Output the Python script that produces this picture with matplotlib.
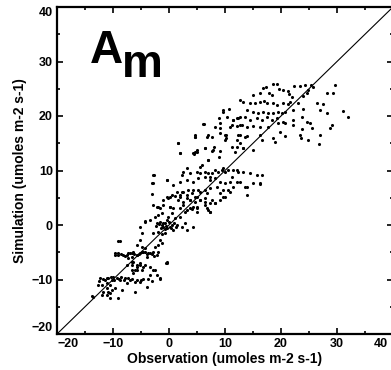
import numpy as np
import matplotlib
matplotlib.use('Agg')
import matplotlib.pyplot as plt
from matplotlib.transforms import ScaledTranslation

plt.rcParams['font.family'] = ['Liberation Sans', 'DejaVu Sans']
plt.rcParams['font.weight'] = 'bold'

# observed vs simulated net assimilation, read off the scatter by eye
# upper cloud (high light, summer)
obs_hi = [18.6, 19.3, 16.8, 17.3, 19.6, 20.4, 21.3, 22.3, 23.4, 24.3, 25.4, 25.7, 29.6, 28.2,
          29.3, 24.8, 24.6, 23.9, 15.0, 16.3, 17.9, 18.4, 21.4, 22.0, 14.5, 15.4, 16.3, 17.0,
          17.5, 18.6, 19.3, 20.4, 21.3, 21.6, 23.0, 26.4, 27.5, 13.2, 13.9, 15.0, 15.9, 16.8,
          17.7, 18.6, 19.5, 20.2, 20.7, 22.1, 23.9, 27.0, 28.2, 31.1, 32.0, 12.7, 13.6, 14.5,
          15.7, 16.6, 17.5, 18.4, 19.3, 20.4, 22.1, 23.8, 24.6, 12.7, 13.9, 15.0, 16.3, 17.7,
          19.5, 20.7, 22.1, 25.2, 29.1, 28.8, 19.8, 23.8, 25.5, 12.7, 13.6, 16.3, 16.6, 18.6,
          18.9, 20.7, 23.4, 23.6, 24.8, 27.0, 26.8, 15.0, 13.2,
          4.6, 6.3, 5.0, 4.4, 6.4, 7.7, 7.0, 8.9, 9.6, 10.7, 11.4, 9.1, 10.0, 10.2, 10.9, 12.1,
          12.7, 13.0, 12.1, 11.3, 11.8, 8.9, 8.0, 13.9, 13.2, 6.8]
sim_hi = [25.9, 25.9, 25.1, 25.3, 25.0, 24.8, 24.6, 25.5, 25.5, 25.7, 25.7, 25.3, 25.7, 24.2,
          24.2, 24.8, 24.2, 23.7, 23.9, 24.2, 24.2, 23.9, 24.0, 23.5, 22.4, 22.4, 22.6, 22.8,
          22.4, 22.4, 22.0, 22.4, 22.2, 22.6, 22.4, 22.4, 22.2, 22.6, 21.1, 20.7, 20.6, 20.7,
          20.6, 20.6, 20.7, 20.6, 20.7, 21.1, 21.3, 21.1, 20.6, 20.9, 19.8, 19.8, 19.8, 19.3,
          19.6, 19.3, 19.8, 19.3, 19.6, 18.9, 19.3, 19.8, 18.9, 18.3, 18.0, 18.2, 18.0, 18.0,
          18.7, 18.7, 18.3, 18.7, 18.3, 17.8, 17.1, 17.6, 17.8, 16.5, 16.2, 16.5, 15.6, 16.0,
          15.2, 16.3, 16.5, 16.0, 15.6, 16.5, 14.9, 13.8, 14.1,
          16.1, 18.5, 13.4, 13.1, 14.1, 13.6, 11.9, 19.6, 21.1, 21.3, 19.3, 17.8, 16.5, 16.0,
          18.0, 19.6, 22.9, 18.3, 15.6, 14.3, 13.4, 12.5, 14.3, 16.3, 14.1, 16.1]

# middle cloud
obs_mid = [9.6, 10.4, 11.4, 12.3, 12.1, 11.3, 9.1, 8.2, 6.1, 9.1, 10.2, 10.0, 12.3, 12.7,
           12.1, 7.0, 7.7, 4.6, 1.6, 2.0, 4.6, 5.0, 6.4, 7.9, 9.1, 7.0, 5.9, 5.5, 3.2, 2.5,
           2.3, 3.8, 5.0, 5.5, 6.4, 7.0, 7.7, 8.2, 8.8, 9.5, 10.0, 10.5, 11.4, 12.3, -2.9,
           -0.4, -2.9, 0.7, 2.0, 3.2, 4.3, 5.2, 6.4, 7.3, 8.2, 9.1, 10.0, 10.9, 8.6, 7.3, 6.4,
           5.2, 4.3, 3.4, 2.5, 1.4, 0.5, -0.2, -1.1, 2.0, 3.2, 3.8, 4.6, 5.5, 6.4, 7.7, 9.1,
           9.6, 10.5, 10.0, 8.2, -2.1, -1.6, 0.2, 0.7, 3.2, 4.1, 5.0, 7.0, 2.5,
           9.6, 12.1, 13.2, 14.5, 15.7, 16.6, 15.0, 16.3, 13.9, 11.3, 12.1, 7.3, 12.7, 13.6,
           16.3, 13.9, 11.4, 8.2, 7.3, 9.1, 9.6, 5.0, 4.3, 6.4, 10.9,
           -3.0, -2.7, -0.4, 1.6, 2.0, 4.6, 4.3, -3.0, -0.4, 2.0, 5.0]
sim_mid = [20.7, 19.8, 19.3, 19.6, 18.2, 18.3, 18.7, 18.0, 18.5, 16.9, 16.5, 15.6, 16.5, 15.0,
           14.3, 16.5, 16.2, 16.5, 15.0, 13.2, 13.4, 13.8, 14.1, 13.8, 13.6, 11.9, 11.0, 10.6,
           10.5, 9.7, 9.2, 9.5, 9.7, 9.5, 9.7, 9.5, 9.5, 10.1, 9.7, 10.1, 9.7, 10.1, 10.1, 9.7,
           9.2, 8.3, 7.7, 7.3, 7.9, 8.3, 7.9, 8.6, 8.8, 8.3, 8.6, 7.9, 7.7, 7.9, 7.0, 6.8, 6.4,
           6.4, 6.4, 6.4, 6.1, 6.1, 5.5, 5.0, 4.6, 5.1, 5.0, 4.6, 5.1, 4.6, 5.0, 4.6, 5.9,
           6.4, 6.4, 5.1, 4.0, 3.3, 3.1, 3.3, 3.1, 2.8, 2.9, 3.3, 2.8, 3.7,
           10.5, 10.1, 9.7, 9.5, 9.2, 9.2, 7.7, 7.7, 7.0, 8.8, 7.9, 8.8, 7.9, 7.0,
           7.5, 5.5, 7.0, 4.0, 2.4, 4.6, 5.1, 2.4, 3.3, 3.7, 6.1,
           7.7, 9.2, 8.3, 15.0, 13.2, 16.2, 13.2, 5.7, 5.1, 5.5, 5.1]

# lower cloud (low light, night respiration)
obs_lo = [2.3, 3.2, 4.1, 5.5, 6.8, 0.2, 1.1, 1.6, 2.5, 3.8, 4.6, 5.5, 6.4, 7.3, 6.8, 7.3,
          5.0, 3.8, 2.9, 2.0, -2.9, -2.0, -1.1, 0.2, -2.0, -2.5, -1.3, 0.5, -0.2, 1.1, 2.0,
          -3.4, -4.3, -2.1, -1.6, -1.3, -1.1, -0.7, -0.4, 0.2, 0.5, 0.7, 1.4, 2.3, 2.9, 3.2,
          4.3, -5.2, -4.8, -2.9, -2.0, -1.3, -0.7, -1.6, -2.0, -1.3, -2.5, -5.2, -5.7, -4.8,
          -4.3, -8.8, -6.4, -9.6, -9.1, -8.2, -7.3, -6.6, -5.7, -5.2, -4.6, -3.8, -2.9, -2.0,
          -3.9, -6.4, -5.7, -6.6, -5.2, -4.6, -3.4, -4.8, -6.1, -0.4, -2.9,
          -1.8, -1.0, -0.5, 0.0, 0.3, -0.8, -1.5, 0.9, 1.2, -0.3, -2.3,
          -9.6, -9.1, -7.5, -6.6, -5.7, -4.8, -4.3, -3.4, -2.1, -7.3, -6.6, -5.7, -5.2, -4.3,
          -5.7, -6.6, -0.4, -2.5, -12.3, -11.4, -10.9, -10.2, -10.0, -9.3, -8.8, -7.9, -7.0,
          -6.1, -5.2, -4.6, -11.1, -12.0, -12.7, -10.5, -7.5, -3.8, -3.0, -1.6, -2.1, -3.4,
          -6.4, -7.5, -11.1, -11.8, -10.9, -10.2, -9.6, -12.0, -11.1, -10.5, -8.4, -9.1,
          -13.6, -6.1, -3.9,
          -11.8, -11.0, -10.3, -9.8, -9.0, -8.5, -8.0, -7.4, -6.6, -5.8, -5.0, -12.5,
          -8.6, -7.9, -7.0, -6.2, -5.4, -4.0, -3.1, -2.6,
          -9.1, -4.3, -0.5, -1.6, -10.5, -13.8]
sim_lo = [6.1, 5.5, 5.9, 6.1, 5.9, 5.1, 5.3, 4.6, 4.2, 4.6, 4.2, 4.6, 4.2, 4.0, 3.1, 2.4,
          3.1, 3.1, 2.4, 3.1, 3.7, 3.3, 3.7, 3.3, 1.8, 1.5, 2.2, 2.2, 1.5, 1.3, 1.5,
          0.9, 0.6, 0.4, 0.6, 0.0, -0.3, 0.4, -0.6, -0.3, 0.0, -0.9, 0.0, -0.3, 0.4, -0.9,
          -0.3, -0.3, -1.4, -1.4, -1.2, -1.7, -1.4, -2.8, -3.7, -3.3, -4.0, -2.8, -3.7, -4.0,
          -4.2, -2.9, -5.0, -5.1, -5.1, -5.5, -5.1, -5.9, -5.5, -5.1, -5.0, -5.1, -5.0, -5.0,
          -5.9, -6.8, -7.3, -7.3, -7.0, -7.7, -7.7, -8.3, -8.3, -6.8, -8.3,
          0.2, 0.3, -0.1, 0.5, -0.5, -0.8, -0.5, 0.4, -0.4, 0.9, -0.2,
          -5.5, -5.5, -5.5, -5.1, -5.5, -5.0, -5.0, -5.1, -5.5, -6.1, -6.8, -7.7, -7.3, -7.3,
          -8.3, -8.3, -7.0, -8.3, -9.7, -10.1, -9.7, -10.1, -9.5, -9.7, -10.1, -9.7, -10.1,
          -10.5, -10.5, -9.9, -10.6, -11.0, -11.0, -11.0, -10.6, -9.9, -10.3, -9.7, -9.2, -9.2,
          -8.8, -7.3, -11.6, -12.3, -12.3, -11.9, -11.6, -12.8, -12.8, -12.5, -11.9, -13.4,
          -13.2, -12.3, -11.4,
          -9.9, -9.8, -9.6, -10.0, -9.9, -9.6, -10.0, -9.8, -9.9, -10.1, -10.0, -10.2,
          -5.3, -5.6, -5.2, -5.4, -5.3, -5.4, -5.3, -5.6,
          -2.9, 0.7, -7.0, -9.9, -13.4, -13.0]

ticks = [-20, -10, 0, 10, 20, 30, 40]
minor_ticks = [-15, -5, 5, 15, 25, 35]

obs = np.array(obs_hi + obs_mid + obs_lo)
sim = np.array(sim_hi + sim_mid + sim_lo)

fig = plt.figure(figsize=(3.91, 3.70), dpi=100)
ax = fig.add_axes([57 / 391, 36 / 370, 336 / 391, 327 / 370])

ax.scatter(obs, sim, s=5, c='black', marker='o', linewidths=0)
ax.plot([-20, 40], [-20, 40], color='black', lw=0.8)

ax.set_xlim(-20, 40)
ax.set_ylim(-20, 40)
ax.set_xticks(ticks)
ax.set_yticks(ticks)
ax.set_xticks(minor_ticks, minor=True)
ax.set_yticks(minor_ticks, minor=True)
ax.tick_params(which='both', direction='in', top=True, right=True, width=1.2)
ax.tick_params(which='major', length=4, labelsize=9, pad=3)
ax.tick_params(which='minor', length=2)
for s in ax.spines.values():
    s.set_linewidth(1.6)

ax.set_xlabel('Observation (umoles m-2 s-1)', fontsize=10, fontweight='bold', labelpad=1)
ax.set_ylabel('Simulation (umoles m-2 s-1)', fontsize=10, fontweight='bold', labelpad=3)

# end labels nudged inward, as in the original
xl = ax.get_xticklabels()
xl[0].set_ha('left')
xl[-1].set_ha('right')
xl[-1].set_transform(xl[-1].get_transform() + ScaledTranslation(-4 / 72, 0, fig.dpi_scale_trans))
yl = ax.get_yticklabels()
yl[0].set_va('bottom')
yl[-1].set_va('top')

ax.text(-14.1, 29.7, 'A', fontsize=33, fontweight='bold', va='baseline', ha='left')
ax.text(-8.4, 27.2, 'm', fontsize=33, fontweight='bold', va='baseline', ha='left')

fig.savefig('out.png', dpi=100)
